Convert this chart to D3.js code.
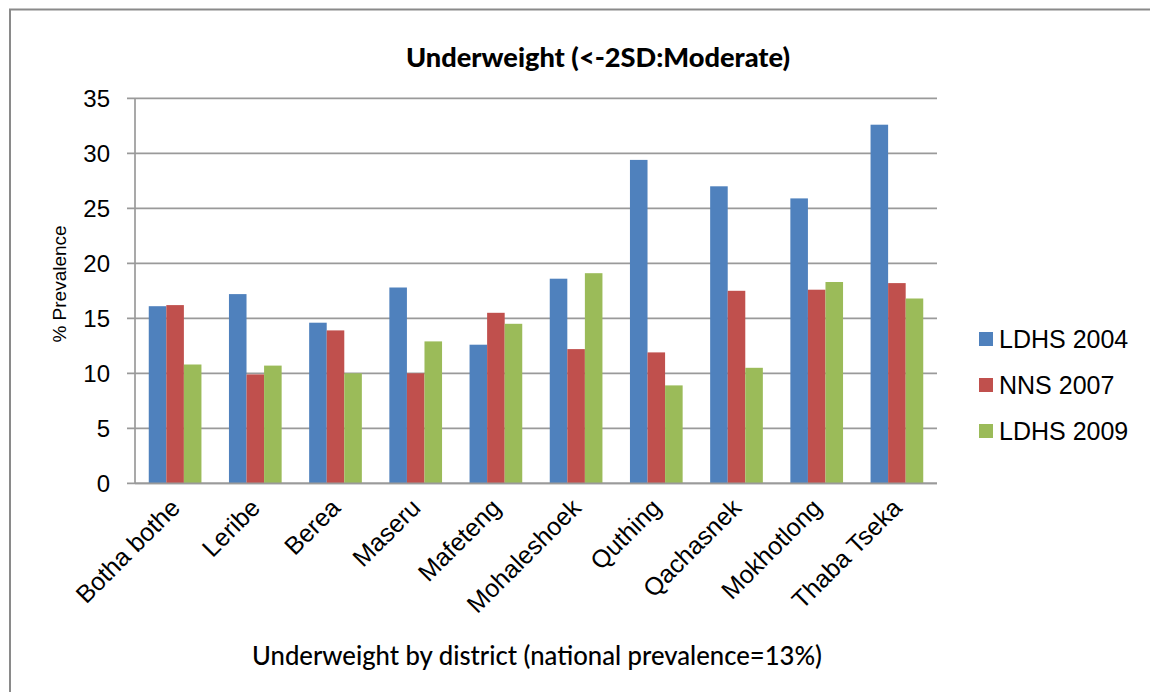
<!DOCTYPE html>
<html>
<head>
<meta charset="utf-8">
<script src="https://cdn.jsdelivr.net/npm/d3@7"></script>
<style>
  html, body { margin: 0; padding: 0; background: #fff; }
  svg { display: block; }
</style>
</head>
<body>
<svg id="chart" width="1150" height="692"></svg>
<script>
// Districts along the x axis
const districts = ["Botha bothe", "Leribe", "Berea", "Maseru", "Mafeteng",
  "Mohaleshoek", "Quthing", "Qachasnek", "Mokhotlong", "Thaba Tseka"];

// Moderate underweight prevalence (%) per district, by survey
const ldhs2004 = [16.1, 17.2, 14.6, 17.8, 12.6, 18.6, 29.4, 27.0, 25.9, 32.6];
const nns2007  = [16.2, 9.9, 13.9, 10.0, 15.5, 12.2, 11.9, 17.5, 17.6, 18.2];
const ldhs2009 = [10.8, 10.7, 10.0, 12.9, 14.5, 19.1, 8.9, 10.5, 18.3, 16.8];

const seriesNames = ["LDHS 2004", "NNS 2007", "LDHS 2009"];
const yTicks = [0, 5, 10, 15, 20, 25, 30, 35];

const series = [ldhs2004, nns2007, ldhs2009];
const colors = ["#4F81BD", "#C0504D", "#9BBB59"];

const svg = d3.select("#chart");

// Outer frame (top and left edges)
svg.append("path")
  .attr("d", "M10,692 L10,9.5 L1150,9.5")
  .attr("fill", "none")
  .attr("stroke", "#8a8a8a")
  .attr("stroke-width", 2);

const plot = { left: 135, right: 937, top: 98.3, bottom: 483.3 };

const x = d3.scaleBand()
  .domain(districts)
  .range([plot.left, plot.right])
  .paddingInner(0)
  .paddingOuter(0);

// Clustered bars take about two thirds of each category slot
const groupFrac = 0.657;
const xs = d3.scaleBand()
  .domain(seriesNames)
  .range([0, x.bandwidth() * groupFrac]);
const groupOffset = x.bandwidth() * (1 - groupFrac) / 2;

const y = d3.scaleLinear()
  .domain([0, 35])
  .range([plot.bottom, plot.top]);

// Horizontal gridlines
svg.append("g")
  .selectAll("line")
  .data(yTicks)
  .join("line")
  .attr("x1", plot.left - 8)
  .attr("x2", plot.right)
  .attr("y1", d => y(d))
  .attr("y2", d => y(d))
  .attr("stroke", "#9a9a9a")
  .attr("stroke-width", 1.7);

// Y axis line
svg.append("line")
  .attr("x1", plot.left).attr("x2", plot.left)
  .attr("y1", y(35)).attr("y2", y(0))
  .attr("stroke", "#9a9a9a")
  .attr("stroke-width", 1.7);

// Y tick labels
svg.append("g")
  .selectAll("text")
  .data(yTicks)
  .join("text")
  .attr("x", 110)
  .attr("y", d => y(d))
  .attr("dy", "0.36em")
  .attr("text-anchor", "end")
  .attr("font-family", "Liberation Sans, Arial, sans-serif")
  .attr("font-size", 24)
  .attr("fill", "#000")
  .text(d => d);

// Bars
const groups = svg.append("g")
  .selectAll("g")
  .data(districts)
  .join("g")
  .attr("transform", d => `translate(${x(d) + groupOffset},0)`);

groups.selectAll("rect")
  .data((d, i) => series.map((s, k) => ({ key: seriesNames[k], value: s[i], color: colors[k] })))
  .join("rect")
  .attr("x", d => xs(d.key))
  .attr("width", xs.bandwidth())
  .attr("y", d => y(d.value))
  .attr("height", d => y(0) - y(d.value))
  .attr("fill", d => d.color);

// X axis baseline drawn over bar bottoms
svg.append("line")
  .attr("x1", plot.left).attr("x2", plot.right)
  .attr("y1", y(0)).attr("y2", y(0))
  .attr("stroke", "#9a9a9a")
  .attr("stroke-width", 1.7);

// Rotated district labels
svg.append("g")
  .selectAll("text")
  .data(districts)
  .join("text")
  .attr("transform", d => `translate(${x(d) + x.bandwidth() / 2 - 6},${497}) rotate(-45)`)
  .attr("text-anchor", "end")
  .attr("dy", "0.7em")
  .attr("font-family", "Liberation Sans, Arial, sans-serif")
  .attr("font-size", 25)
  .attr("fill", "#000")
  .text(d => d);

// Y axis title
svg.append("text")
  .attr("transform", "translate(66,284) rotate(-90)")
  .attr("text-anchor", "middle")
  .attr("font-family", "Liberation Sans, Arial, sans-serif")
  .attr("font-size", 19)
  .attr("fill", "#000")
  .text("% Prevalence");

// Chart title
svg.append("text")
  .attr("x", 598)
  .attr("y", 67)
  .attr("text-anchor", "middle")
  .attr("font-family", "Lato, sans-serif")
  .attr("font-weight", "900")
  .attr("font-size", 27)
  .attr("textLength", 384)
  .attr("lengthAdjust", "spacingAndGlyphs")
  .attr("fill", "#000")
  .text("Underweight (<-2SD:Moderate)");

// Bottom caption
svg.append("text")
  .attr("x", 537)
  .attr("y", 665)
  .attr("text-anchor", "middle")
  .attr("font-family", "Lato, sans-serif")
  .attr("font-weight", "500")
  .attr("font-size", 27)
  .attr("textLength", 570)
  .attr("lengthAdjust", "spacingAndGlyphs")
  .attr("fill", "#000")
  .text("Underweight by district (national prevalence=13%)");

// Legend
const legend = svg.append("g")
  .selectAll("g")
  .data(seriesNames)
  .join("g")
  .attr("transform", (d, i) => `translate(979,${339 + i * 46})`);

legend.append("rect")
  .attr("x", 0)
  .attr("y", -7)
  .attr("width", 14)
  .attr("height", 14)
  .attr("fill", (d, i) => colors[i]);

legend.append("text")
  .attr("x", 20)
  .attr("y", 0)
  .attr("dy", "0.36em")
  .attr("font-family", "Liberation Sans, Arial, sans-serif")
  .attr("font-size", 25)
  .attr("fill", "#000")
  .text(d => d);
</script>
</body>
</html>
